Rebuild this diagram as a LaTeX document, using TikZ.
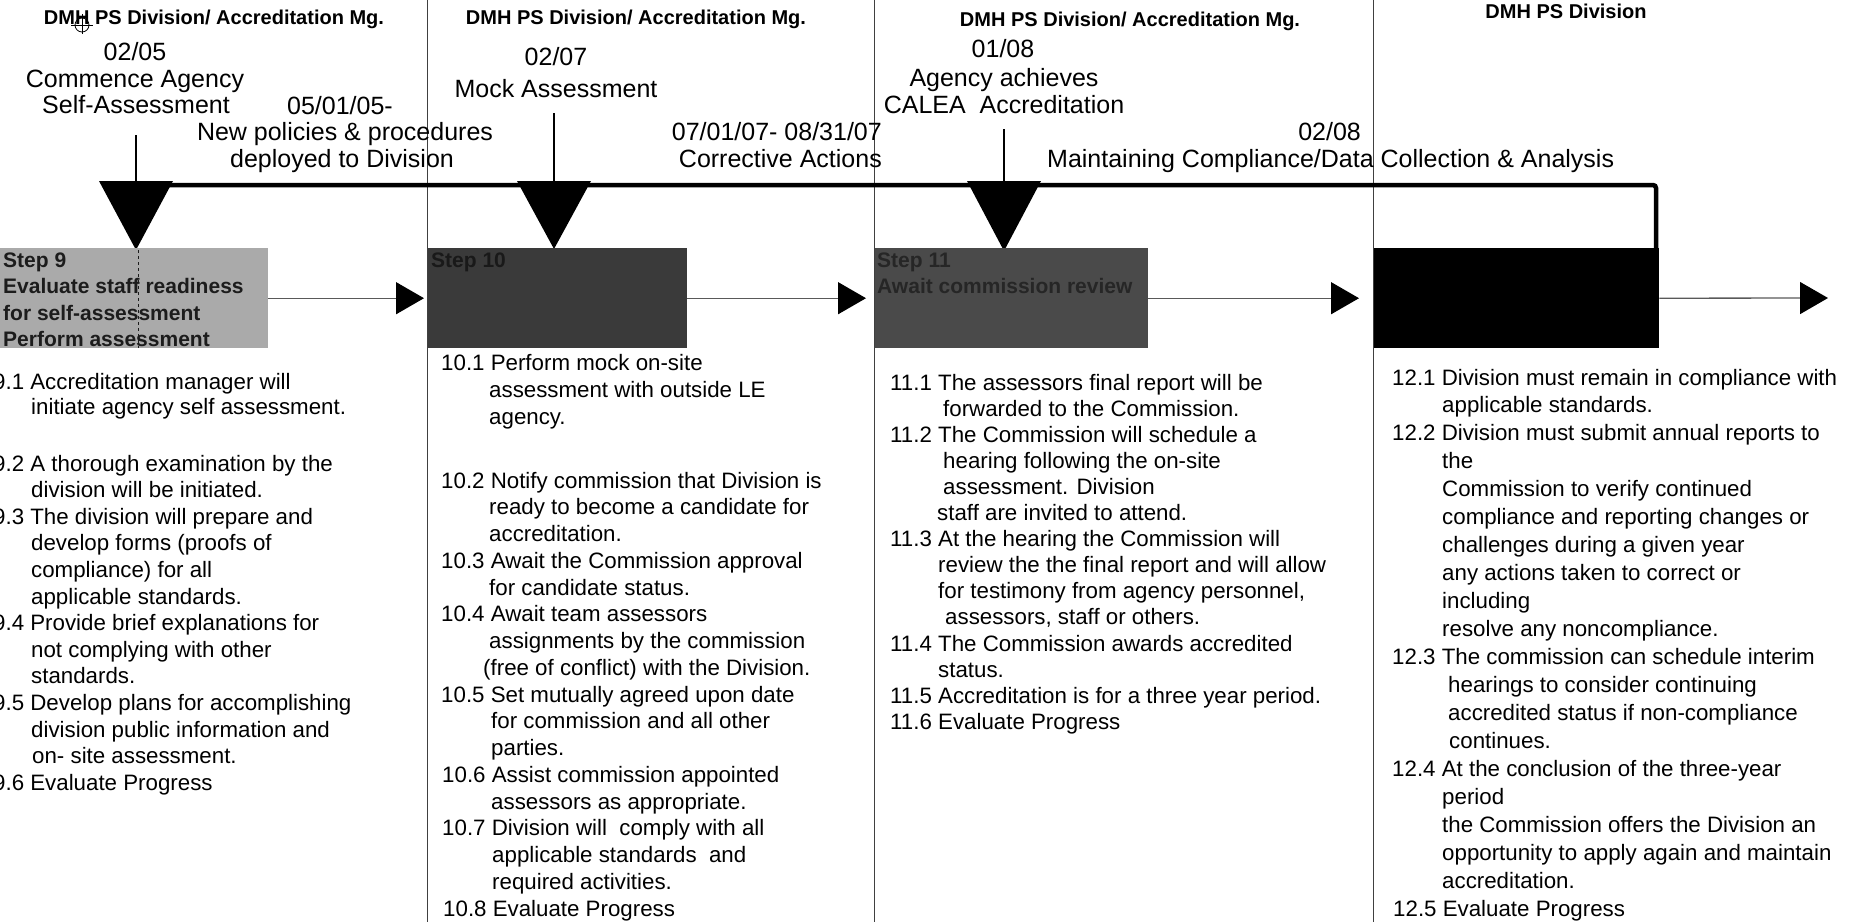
\documentclass[tikz,border=0pt]{standalone}
\usepackage{fontspec}
\setmainfont{Liberation Sans}
\usetikzlibrary{arrows.meta}
\definecolor{boxlight}{HTML}{AAAAAA}
\definecolor{boxdark}{HTML}{3A3A3A}
\definecolor{boxmid}{HTML}{4A4A4A}
\definecolor{boxink}{HTML}{1C1C1C}
\begin{document}
\begin{tikzpicture}[x=1pt,y=-1pt,
  hdr/.style={font=\bfseries\fontsize{20}{24}\selectfont, anchor=base, inner sep=0pt},
  lbl/.style={font=\fontsize{25}{27}\selectfont, anchor=base, inner sep=0pt},
  body/.style={font=\fontsize{22.3}{25}\selectfont, anchor=base west, inner sep=0pt},
  boxtxt/.style={font=\bfseries\fontsize{21}{26}\selectfont, anchor=base west, inner sep=0pt, text=boxink},
  stepbox/.style={draw=none, minimum height=100pt, anchor=north west, inner sep=0pt},
  divider/.style={draw=black!75, line width=1pt},
  stem/.style={draw=black, line width=1.3pt},
  marker/.style={fill=black},
  flow/.style={draw=black!65, line width=1.3pt, -{Triangle[length=28pt,width=32pt,color=black]}},
  timeline/.style={draw=black, line width=4.5pt, rounded corners=3pt}]
\useasboundingbox (0,0) rectangle (1860,922);
\clip (0,0) rectangle (1860,922);

% column dividers
\draw[divider] (427,0) -- (427,922);
\draw[divider] (874,0) -- (874,922);
\draw[divider] (1373,0) -- (1373,922);

% headers
\node[hdr] (h1) at (214,24) {DMH PS Division/ Accreditation Mg.};
\node[hdr] (h2) at (636,24) {DMH PS Division/ Accreditation Mg.};
\node[hdr] (h3) at (1130,26) {DMH PS Division/ Accreditation Mg.};
\node[hdr] (h4) at (1566,18) {DMH PS Division};
\draw[line width=0.8pt] (82,25) circle[radius=7];
\draw[line width=0.8pt] (71,25) -- (93,25) (82,14) -- (82,34);

% event labels
\node[lbl] (e1a) at (135,60) {02/05};
\node[lbl] (e1b) at (135,87) {Commence Agency};
\node[lbl] (e1c) at (136,113) {Self-Assessment};
\node[lbl] (e2a) at (340,114) {05/01/05-};
\node[lbl] (e2b) at (345,140) {New policies \& procedures};
\node[lbl] (e2c) at (342,167) {deployed to Division};
\node[lbl] (e3a) at (556,65) {02/07};
\node[lbl] (e3b) at (556,97) {Mock Assessment};
\node[lbl, anchor=base east] (e4a) at (882,140) {07/01/07- 08/31/07};
\node[lbl, anchor=base east] (e4b) at (882,167) {Corrective Actions};
\node[lbl] (e5a) at (1003,57) {01/08};
\node[lbl] (e5b) at (1004,86) {Agency achieves};
\node[lbl] (e5c) at (1004,113) {CALEA\ \ Accreditation};
\node[lbl, anchor=base east] (e6a) at (1361,140) {02/08};
\node[lbl, anchor=base west] (e6b) at (1047,167) {Maintaining Compliance/Data Collection \& Analysis};

% timeline
\draw[timeline] (136,185) -- (1656,185) -- (1656,249);

% markers
\coordinate (m1top) at (136,135);
\coordinate (m1) at (136,183);
\coordinate (m2top) at (554,113);
\coordinate (m2) at (554,183);
\coordinate (m3top) at (1004,129);
\coordinate (m3) at (1004,183);
\draw[stem] (m1top) -- (m1);
\draw[stem] (m2top) -- (m2);
\draw[stem] (m3top) -- (m3);
\fill[marker] (99,181) -- (173,181) -- (136,250) -- cycle;
\fill[marker] (517,181) -- (591,181) -- (554,249) -- cycle;
\fill[marker] (967,181) -- (1041,181) -- (1004,251) -- cycle;

% step boxes
\node[stepbox, fill=boxlight, minimum width=273pt] (s9) at (-5,248) {};
\node[stepbox, fill=boxdark, minimum width=259pt] (s10) at (428,248) {};
\node[stepbox, fill=boxmid, minimum width=273pt] (s11) at (875,248) {};
\node[stepbox, fill=black, minimum width=285pt] (s12) at (1374,248) {};
\draw[boxink, line width=1pt, dashed] (138,250) -- (138,348);

\node[boxtxt] (s9a) at (3,267) {Step 9};
\node[boxtxt] (s9b) at (3,293) {Evaluate staff readiness};
\node[boxtxt] (s9c) at (3,320) {for self-assessment};
\node[boxtxt] (s9d) at (3,346) {Perform assessment};
\node[boxtxt, text=black!90] (s10a) at (431,267) {Step 10};
\node[boxtxt, text=black!85] (s11a) at (877,267) {Step 11};
\node[boxtxt, text=black!85] (s11b) at (877,293) {Await commission review};

% flow connectors
\coordinate (fend) at (1828,298);
\draw[flow, shorten >=4pt] (s9.east) -- (s10.west);
\draw[flow, shorten >=9pt] (s10.east) -- (s11.west);
\draw[flow, shorten >=15pt] (s11.east) -- (s12.west);
\draw[flow] (s12.east) -- (fend);

% column 9
\foreach \k/\xx/\t in {0/-7/{9.1 Accreditation manager will},
  1/31/{initiate agency self assessment.},
  3/-7/{9.2 A thorough examination by the},
  4/31/{division will be initiated.},
  5/-7/{9.3 The division will prepare and},
  6/31/{develop forms (proofs of},
  7/31/{compliance) for all},
  8/31/{applicable standards.},
  9/-7/{9.4 Provide brief explanations for},
  10/31/{not complying with other},
  11/31/{standards.},
  12/-7/{9.5 Develop plans for accomplishing},
  13/31/{division public information and},
  14/32/{on- site assessment.},
  15/-7/{9.6 Evaluate Progress}}
  {\pgfmathsetmacro\yy{\k<2 ? 389+25.5*\k : 471+26.6*(\k-3)}
   \node[body] (c9l\k) at (\xx,\yy) {\t};}

% column 10
\foreach \k/\xx/\t in {0/441/{10.1 Perform mock on-site},
  1/489/{assessment with outside LE},
  2/489/{agency.},
  4/441/{10.2 Notify commission that Division is},
  5/489/{ready to become a candidate for},
  6/489/{accreditation.},
  7/441/{10.3 Await the Commission approval},
  8/489/{for candidate status.},
  9/441/{10.4 Await team assessors},
  10/489/{assignments by the commission},
  11/483/{(free of conflict) with the Division.},
  12/441/{10.5 Set mutually agreed upon date},
  13/491/{for commission and all other},
  14/491/{parties.},
  15/442/{10.6 Assist commission appointed},
  16/491/{assessors as appropriate.},
  17/442/{10.7 Division will\ \ comply with all},
  18/492/{applicable standards\ \ and},
  19/492/{required activities.},
  20/443/{10.8 Evaluate Progress}}
  {\pgfmathsetmacro\yy{\k<3 ? 370+27*\k : 488+26.75*(\k-4)}
   \node[body] (c10l\k) at (\xx,\yy) {\t};}

% column 11
\foreach \k/\xx/\t in {0/890/{11.1 The assessors final report will be},
  1/943/{forwarded to the Commission.},
  2/890/{11.2 The Commission will schedule a},
  3/943/{hearing following the on-site},
  4/943/{assessment. Division},
  5/937/{staff are invited to attend.},
  6/890/{11.3 At the hearing the Commission will},
  7/938/{review the the final report and will allow},
  8/938/{for testimony from agency personnel,},
  9/945/{assessors, staff or others.},
  10/890/{11.4 The Commission awards accredited},
  11/938/{status.},
  12/890/{11.5 Accreditation is for a three year period.},
  13/890/{11.6 Evaluate Progress}}
  \node[body] (c11l\k) at (\xx,390+26.1*\k) {\t};

% column 12
\foreach \k/\xx/\t in {0/1392/{12.1 Division must remain in compliance with},
  1/1442/{applicable standards.},
  2/1392/{12.2 Division must submit annual reports to},
  3/1442/{the},
  4/1442/{Commission to verify continued},
  5/1442/{compliance and reporting changes or},
  6/1442/{challenges during a given year},
  7/1442/{any actions taken to correct or},
  8/1442/{including},
  9/1442/{resolve any noncompliance.},
  10/1392/{12.3 The commission can schedule interim},
  11/1448/{hearings to consider continuing},
  12/1448/{accredited status if non-compliance},
  13/1449/{continues.},
  14/1392/{12.4 At the conclusion of the three-year},
  15/1442/{period},
  16/1442/{the Commission offers the Division an},
  17/1442/{opportunity to apply again and maintain},
  18/1442/{accreditation.},
  19/1393/{12.5 Evaluate Progress}}
  \node[body] (c12l\k) at (\xx,385+27.95*\k) {\t};
\end{tikzpicture}
\end{document}
